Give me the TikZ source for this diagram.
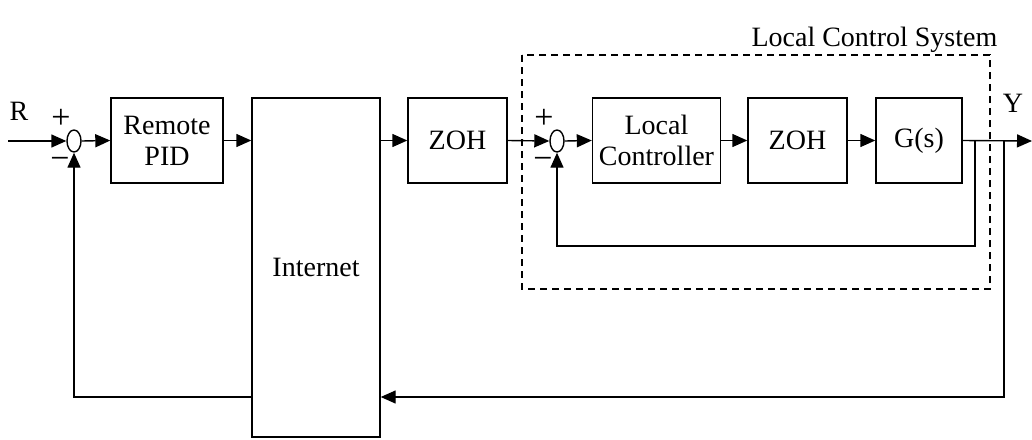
\documentclass[tikz,border=0pt]{standalone}
\usepackage{fontspec}
\setmainfont{Liberation Serif}
\usetikzlibrary{arrows.meta,shapes.geometric}
\begin{document}
\begin{tikzpicture}[x=1pt,y=-1pt,
  line width=1.4pt,
  every node/.style={font=\fontsize{28}{31}\selectfont},
  blk/.style={draw,rectangle,minimum height=85pt,inner sep=0pt,align=center},
  sumnode/.style={draw,ellipse,minimum width=14pt,minimum height=22pt,inner sep=0pt},
  sig/.style={-{Triangle[length=15pt,width=13pt]}},
  lbl/.style={inner sep=0pt,anchor=center},
  sgn/.style={inner sep=0pt,anchor=center,font=\fontsize{34}{34}\selectfont}]
\useasboundingbox (0,0) rectangle (1032,439);

% blocks
\node[sumnode] (s1) at (74,141) {};
\node[blk,minimum width=112pt] (pid) at (167,140.5) {Remote\\PID};
\node[blk,minimum width=128pt,minimum height=339pt] (net) at (316,267.5) {Internet};
\node[blk,minimum width=99pt] (zoh1) at (457.5,140.5) {ZOH};
\node[sumnode] (s2) at (557,141) {};
\node[blk,minimum width=128pt] (lc) at (656.5,140.5) {Local\\Controller};
\node[blk,minimum width=99pt] (zoh2) at (797.5,140.5) {ZOH};
\node[blk,minimum width=86pt] (gs) at (919,140.5) {G(s)};

% local control system frame
\draw[dash pattern=on 7pt off 5pt,line width=1.2pt] (522,55) rectangle (990,289);
\node[lbl,anchor=base east] (lcs) at (998,46) {Local Control System};

% signal labels
\node[lbl] (rl) at (19,111) {R};
\node[lbl] (yl) at (1013,103) {Y};
\node[sgn] (p1) at (61,119) {+};
\node[sgn] (m1) at (60,163) {−};
\node[sgn] (p2) at (544,119) {+};
\node[sgn] (m2) at (543,163) {−};

% coordinates
\coordinate (in) at (8,141);
\coordinate (out) at (1032,141);
\coordinate (j1) at (975,141);
\coordinate (j2) at (1004,141);
\coordinate (b1) at (975,246);
\coordinate (b2) at (1004,397);

% forward path
\draw[sig] (in) -- (s1.west);
\draw[sig] (s1.east) -- (pid.west);
\draw[sig] (pid.east) -- (pid.east -| net.west);
\draw[sig] (zoh1.west -| net.east) -- (zoh1.west);
\draw[sig] (zoh1.east) -- (s2.west);
\draw[sig] (s2.east) -- (lc.west);
\draw[sig] (lc.east) -- (zoh2.west);
\draw[sig] (zoh2.east) -- (gs.west);
\draw[sig] (gs.east) -- (out);

% inner feedback
\draw[sig] (j1) -- (b1) -| (s2.south);

% outer feedback
\draw[sig] (j2) -- (b2) -- (b2 -| net.east);
\draw[sig] (b2 -| net.west) -| (s1.south);
\end{tikzpicture}
\end{document}
